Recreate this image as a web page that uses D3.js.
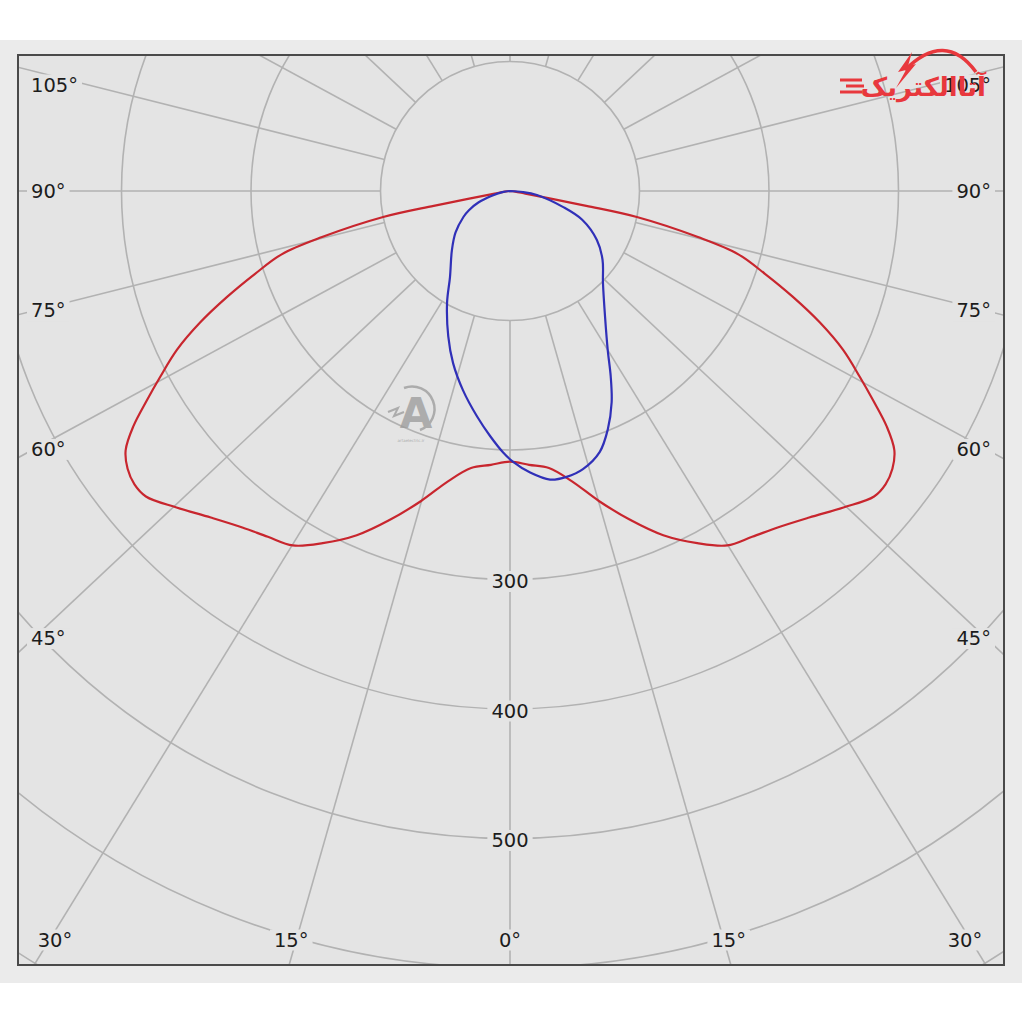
<!DOCTYPE html>
<html><head><meta charset="utf-8">
<script src="https://cdn.jsdelivr.net/npm/d3@7"></script>
<style>body{margin:0;background:#fff}</style>
</head><body>
<svg id="chart" width="1024" height="1024"></svg>
<script>
// ---- data ----
const ringValues = [100, 200, 300, 400, 500, 600, 700, 800];
const ringLabelValues = [300, 400, 500];
const spokeAngles = [-165,-150,-135,-120,-105,-90,-75,-60,-45,-30,-15,0,15,30,45,60,75,90,105,120,135,150,165,180];
const sideLabelAngles = [45, 60, 75, 90, 105];
const bottomLabelAngles = [-30, -15, 0, 15, 30];

// C0-C180 plane (red): angle from nadir (deg), intensity (cd)
const redAngles = [-90,-84,-80.5,-79.5,-79,-78.4,-76.2,-74.5,-72,-69.5,-67,-64.5,-62,-60,-58,-56,-54,-52,-50,-46.5,-42.5,-38.5,-35,-31.5,-28,-24,-20,-16,-12,-8,-4,0,
                   4,8,12,16,20,24,28,31.5,35,38.5,42.5,46.5,50,52,54,56,58,60,62,64.5,67,69.5,72,74.5,76.2,78.4,79,79.5,80.5,84,90];
const redValues = [0,4,12,30,60,100,150,183,207,233,260,285,306,324,343,358,365,368,367,355,342,332,326,321,308,291,270,249,229,216,212,209,
                   212,216,229,249,270,291,308,321,326,332,342,355,367,368,365,358,343,324,306,285,260,233,207,183,150,100,60,30,12,4,0];

// C90-C270 plane (blue)
const blueAngles = [-90,-82,-75,-70,-65,-61,-52.6,-44.5,-34.9,-29.4,-23,-18.3,-13.3,-8.3,-4.6,-1.5,0.6,4.1,7.9,11.2,14.7,19,22.3,25.7,28.5,31.6,37,45.3,53.4,60.6,68.3,73.2,81.6,85.6,90];
const blueValues = [0,6,15,26,35,41,53,64,81,99,122,140,158,176,190,202,209,218,225,225,222,213,199,181,163,144,122,101,89,77,60,43,21,10,0];

// ---- layout ----
const cx = 510, cy = 191;
const frame = {x: 18, y: 55, w: 986, h: 910};
const spokeStretch = 1.065;
const bgPanel = "#ebebeb", bgPlot = "#e4e4e4", gridCol = "#b2b2b2";

const svg = d3.select("#chart");
svg.append("rect").attr("x", 0).attr("y", 40).attr("width", 1022).attr("height", 943).attr("fill", bgPanel);
svg.append("rect").attr("x", frame.x).attr("y", frame.y).attr("width", frame.w).attr("height", frame.h).attr("fill", bgPlot);

svg.append("clipPath").attr("id", "clip").append("rect")
  .attr("x", frame.x).attr("y", frame.y).attr("width", frame.w).attr("height", frame.h);

const r = d3.scaleLinear().domain([0, 100]).range([0, 129.5]);
const g = svg.append("g").attr("clip-path", "url(#clip)");
const gc = g.append("g").attr("transform", `translate(${cx},${cy})`);

// rings
gc.selectAll("circle.ring").data(ringValues).join("circle")
  .attr("r", d => r(d)).attr("fill", "none").attr("stroke", gridCol).attr("stroke-width", 1.6);

// spokes (start at the 100 cd ring)
function dir(a, s) {
  const t = a * Math.PI / 180;
  const vx = s * Math.sin(t), vy = Math.cos(t);
  const n = Math.hypot(vx, vy);
  return [vx / n, vy / n];
}
gc.selectAll("line.spoke").data(spokeAngles).join("line")
  .attr("x1", d => dir(d, spokeStretch)[0] * r(100)).attr("y1", d => dir(d, spokeStretch)[1] * r(100))
  .attr("x2", d => dir(d, spokeStretch)[0] * 1600).attr("y2", d => dir(d, spokeStretch)[1] * 1600)
  .attr("stroke", gridCol).attr("stroke-width", 1.6);

// curves
const radial = d3.lineRadial()
  .angle(d => Math.PI - d[0] * Math.PI / 180)
  .radius(d => r(d[1]))
  .curve(d3.curveCatmullRom.alpha(0.5));
const redData = redAngles.map((a, i) => [a, redValues[i]]);
const blueData = blueAngles.map((a, i) => [a, blueValues[i]]);
gc.append("path").attr("d", radial(redData)).attr("fill", "none").attr("stroke", "#c8262e").attr("stroke-width", 2.2);
gc.append("path").attr("d", radial(blueData)).attr("fill", "none").attr("stroke", "#3030b8").attr("stroke-width", 2.2);

// labels with background halo
const font = "DejaVu Sans, Verdana, sans-serif";
function label(x, y, txt, anchor) {
  const grp = svg.append("g");
  const bg = grp.append("rect").attr("fill", bgPlot);
  const t = grp.append("text").attr("x", x).attr("y", y).attr("text-anchor", anchor)
    .attr("dominant-baseline", "central").attr("font-family", font).attr("font-size", 19.5)
    .attr("fill", "#1c1c1c").text(txt);
  const b = t.node().getBBox();
  bg.attr("x", b.x - 4).attr("y", b.y + 1).attr("width", b.width + 8).attr("height", b.height - 2);
}
ringLabelValues.forEach(v => label(cx, cy + r(v) + 2, String(v), "middle"));

sideLabelAngles.forEach(a => {
  const d = dir(a, 1.03);
  let y = cy + 461 * d[1] / d[0];
  y = Math.max(y, 85);
  label(31, y, a + "°", "start");
  label(991, y, a + "°", "end");
});
bottomLabelAngles.forEach(a => {
  const d = dir(a, 1.09);
  let x = cx + 749 * d[0] / d[1];
  x = Math.min(Math.max(x, 55), 965);
  label(x, 940, Math.abs(a) + "°", "middle");
});

// frame border
svg.append("rect").attr("x", frame.x).attr("y", frame.y).attr("width", frame.w).attr("height", frame.h)
  .attr("fill", "none").attr("stroke", "#4a4a4a").attr("stroke-width", 2);

// watermark (centre)
const wm = svg.append("g").attr("opacity", 0.75);
wm.append("path").attr("d", "M404,388 A22,22 0 1,1 420,430").attr("fill", "none").attr("stroke", "#9a9a9a").attr("stroke-width", 2.5);
wm.append("text").attr("x", 416).attr("y", 428).attr("text-anchor", "middle").attr("font-family", font)
  .attr("font-weight", "bold").attr("font-size", 42).attr("fill", "#9a9a9a").text("A");
wm.append("path").attr("d", "M388,412 L398,408 L394,416 L404,412").attr("fill", "none").attr("stroke", "#9a9a9a").attr("stroke-width", 2);
wm.append("text").attr("x", 411).attr("y", 442).attr("text-anchor", "middle").attr("font-family", font)
  .attr("font-size", 4).attr("fill", "#9a9a9a").text("artaelectric.ir");

// logo (top right)
const logo = svg.append("g");
logo.append("path").attr("d", "M905,70 Q945,30 976,72").attr("fill", "none").attr("stroke", "#e8383d").attr("stroke-width", 3.5);
logo.append("path").attr("d", "M912,52 L898,72 L906,70 L896,88 L916,64 L908,66 Z").attr("fill", "#e8383d");
logo.append("text").attr("x", 986).attr("y", 96).attr("text-anchor", "end").attr("font-family", "DejaVu Sans")
  .attr("font-weight", "bold").attr("font-size", 26).attr("fill", "#e8383d").text("آتاالکتریک");
[[840, 80, 22], [846, 86, 18], [840, 92, 22]].forEach(([x, y, w]) =>
  logo.append("line").attr("x1", x).attr("y1", y).attr("x2", x + w).attr("y2", y).attr("stroke", "#e8383d").attr("stroke-width", 3));
</script>
</body></html>
